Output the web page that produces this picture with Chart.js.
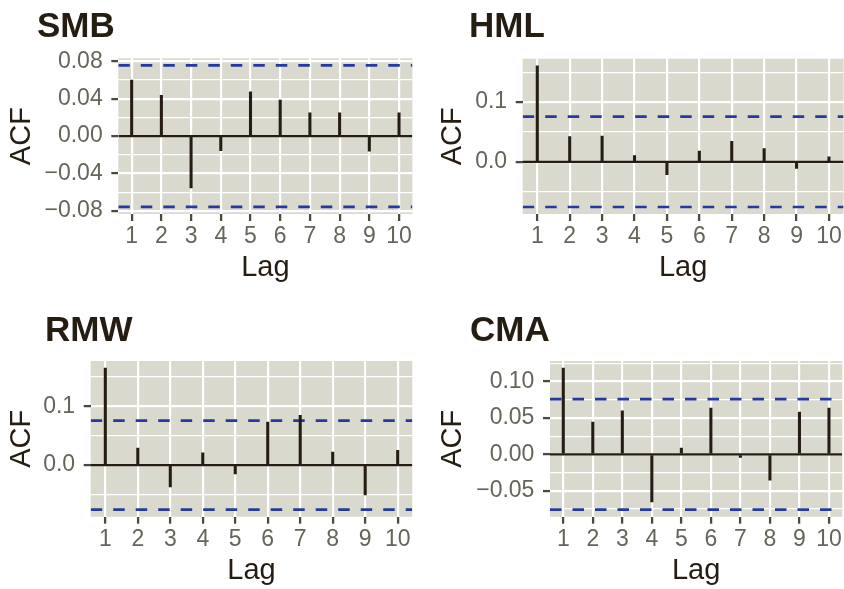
<!DOCTYPE html>
<html>
<head>
<meta charset="utf-8">
<title>ACF of factor returns</title>
<script src="https://cdn.jsdelivr.net/npm/chart.js@4.4.1/dist/chart.umd.min.js"></script>
<style>
  html, body { margin: 0; padding: 0; background: #ffffff; }
  #grid { position: relative; width: 844px; height: 589px; overflow: hidden; }
  #grid canvas { position: absolute; }
</style>
</head>
<body>
<div id="grid">
  <canvas id="smb" width="422" height="295" style="left:0px;top:0px"></canvas>
  <canvas id="hml" width="422" height="295" style="left:422px;top:0px"></canvas>
  <canvas id="rmw" width="422" height="294" style="left:0px;top:295px"></canvas>
  <canvas id="cma" width="422" height="294" style="left:422px;top:295px"></canvas>
</div>
<script>
// ---- data -------------------------------------------------------------
const lags = [1, 2, 3, 4, 5, 6, 7, 8, 9, 10];

const smbAcf = [0.060, 0.0436, -0.0554, -0.0154, 0.0475, 0.0386, 0.025, 0.025, -0.016, 0.025];
const hmlAcf = [0.161, 0.0422, 0.0433, 0.0106, -0.0217, 0.0178, 0.0344, 0.0222, -0.011, 0.0083];
const rmwAcf = [0.165, 0.029, -0.037, 0.021, -0.0148, 0.0733, 0.0847, 0.0222, -0.0506, 0.025];
const cmaAcf = [0.1183, 0.0443, 0.0598, -0.0653, 0.0087, 0.0635, -0.004, -0.0352, 0.058, 0.0635];

// 95% white-noise band, 1.96 / sqrt(n)
const ciBound = 0.0757;

const smbMajorTicks = [-0.08, -0.04, 0, 0.04, 0.08];
const smbTickLabels = ['\u22120.08', '\u22120.04', '0.00', '0.04', '0.08'];
const smbMinorTicks = [-0.06, -0.02, 0.02, 0.06];

const hmlMajorTicks = [0, 0.1];
const hmlTickLabels = ['0.0', '0.1'];
const hmlMinorTicks = [-0.05, 0.05, 0.15];

const rmwMajorTicks = [0, 0.1];
const rmwTickLabels = ['0.0', '0.1'];
const rmwMinorTicks = [-0.05, 0.05, 0.15];

const cmaMajorTicks = [-0.05, 0, 0.05, 0.1];
const cmaTickLabels = ['\u22120.05', '0.00', '0.05', '0.10'];
const cmaMinorTicks = [-0.075, -0.025, 0.025, 0.075, 0.125];

// ---- styling ----------------------------------------------------------
const INK = '#261d12';
const BLUE = '#27399f';
const PANEL = '#d9d9cd';
const TICK_TEXT = '#66655a';
const TICK_MARK = '#4b4a40';
const FAMILY = '"Liberation Sans", Arial, Helvetica, sans-serif';

Chart.defaults.font.family = FAMILY;

// panel geometry inside each canvas (pixels)
const panels = [
  { id: 'smb', title: 'SMB', acf: smbAcf, major: smbMajorTicks, labels: smbTickLabels, minor: smbMinorTicks,
    area: { left: 118.3, right: 412.4, top: 58.3, bottom: 214 }, titlePos: { x: 37, y: 37 }, yTitleMid: 21.7 },
  { id: 'hml', title: 'HML', acf: hmlAcf, major: hmlMajorTicks, labels: hmlTickLabels, minor: hmlMinorTicks,
    area: { left: 100.7, right: 422, top: 58.7, bottom: 214 }, titlePos: { x: 47, y: 37 }, yTitleMid: 31.3 },
  { id: 'rmw', title: 'RMW', acf: rmwAcf, major: rmwMajorTicks, labels: rmwTickLabels, minor: rmwMinorTicks,
    area: { left: 90.7, right: 412.3, top: 66, bottom: 221.7 }, titlePos: { x: 45, y: 46 }, yTitleMid: 21.7 },
  { id: 'cma', title: 'CMA', acf: cmaAcf, major: cmaMajorTicks, labels: cmaTickLabels, minor: cmaMinorTicks,
    area: { left: 128, right: 422, top: 66, bottom: 221.7 }, titlePos: { x: 48, y: 46 }, yTitleMid: 31.3 }
];

const TICK_SIZE = 23;
const AXIS_TITLE_SIZE = 29;
const TICK_LEN = 7;

// ggplot-style 5% expansion of a continuous range
function expandRange(lo, hi) {
  const pad = (hi - lo) * 0.05;
  return [lo - pad, hi + pad];
}

const panelFill = {
  id: 'panelFill',
  beforeDraw(chart) {
    const { ctx, chartArea: a } = chart;
    ctx.save();
    ctx.fillStyle = PANEL;
    ctx.fillRect(a.left, a.top, a.right - a.left, a.bottom - a.top);
    ctx.restore();
  }
};

function panelTitle(text, pos) {
  return {
    id: 'panelTitle',
    afterDraw(chart) {
      const ctx = chart.ctx;
      ctx.save();
      ctx.font = 'bold 35px ' + FAMILY;
      ctx.fillStyle = INK;
      ctx.textAlign = 'left';
      ctx.textBaseline = 'alphabetic';
      ctx.fillText(text, pos.x, pos.y);
      ctx.restore();
    }
  };
}

function buildPanel(p) {
  const canvas = document.getElementById(p.id);
  const W = canvas.width, H = canvas.height, a = p.area;

  const [yMin, yMax] = expandRange(Math.min(...p.acf, -ciBound), Math.max(...p.acf, ciBound));
  const [xMin, xMax] = expandRange(Math.min(...lags), Math.max(...lags));

  const yTicks = p.major.map((v, i) => ({ value: v, lab: p.labels[i] }))
    .concat(p.minor.map(v => ({ value: v, lab: '' })))
    .sort((m, n) => m.value - n.value);
  const isMajor = ctx => !!(ctx.tick && ctx.tick.lab);

  const tickHalfLine = TICK_SIZE * 1.2 / 2;
  const titleHalfLine = AXIS_TITLE_SIZE * 1.2 / 2;
  const lagMid = a.bottom + 54.3;
  const tickLabelMid = a.bottom + 31 - 0.3465 * TICK_SIZE;

  const edges = [xMin, xMax];

  new Chart(canvas, {
    type: 'bar',
    data: {
      datasets: [
        {
          type: 'bar',
          data: lags.map((l, i) => ({ x: l, y: p.acf[i] })),
          backgroundColor: INK,
          borderWidth: 0,
          barThickness: 2.4,
          order: 0
        },
        {
          type: 'line',
          data: edges.map(x => ({ x, y: 0 })),
          borderColor: INK, borderWidth: 2.3, pointRadius: 0, order: 1
        },
        {
          type: 'line',
          data: edges.map(x => ({ x, y: ciBound })),
          borderColor: BLUE, borderWidth: 2.6, borderDash: [11.5, 11], pointRadius: 0, order: 1
        },
        {
          type: 'line',
          data: edges.map(x => ({ x, y: -ciBound })),
          borderColor: BLUE, borderWidth: 2.6, borderDash: [11.5, 11], pointRadius: 0, order: 1
        }
      ]
    },
    options: {
      responsive: false,
      animation: false,
      devicePixelRatio: 1,
      layout: { padding: { left: 0, top: a.top, right: W - a.right, bottom: 0 } },
      plugins: { legend: { display: false }, tooltip: { enabled: false } },
      scales: {
        x: {
          type: 'linear',
          min: xMin, max: xMax,
          offset: false,
          afterBuildTicks: s => { s.ticks = lags.map(v => ({ value: v })); },
          afterFit: s => { s.height = H - a.bottom; },
          ticks: {
            autoSkip: false, maxRotation: 0, minRotation: 0,
            callback: v => String(v),
            color: TICK_TEXT,
            font: { size: TICK_SIZE },
            padding: tickLabelMid - a.bottom - TICK_LEN - tickHalfLine
          },
          grid: {
            offset: false,
            color: '#ffffff', lineWidth: 2.2,
            drawTicks: true, tickLength: TICK_LEN, tickColor: TICK_MARK, tickWidth: 2.3
          },
          border: { display: false },
          title: {
            display: true, text: 'Lag', color: INK,
            font: { size: AXIS_TITLE_SIZE },
            padding: { top: 0, bottom: H - titleHalfLine - lagMid }
          }
        },
        y: {
          type: 'linear',
          min: yMin, max: yMax,
          afterBuildTicks: s => { s.ticks = yTicks.map(t => ({ value: t.value, lab: t.lab })); },
          afterFit: s => { s.width = a.left; },
          ticks: {
            autoSkip: false,
            callback: (v, i, ticks) => ticks[i].lab,
            color: TICK_TEXT,
            font: { size: TICK_SIZE },
            padding: 8.6
          },
          grid: {
            color: '#ffffff',
            lineWidth: ctx => isMajor(ctx) ? 2.2 : 1.3,
            drawTicks: true, tickLength: TICK_LEN,
            tickColor: ctx => isMajor(ctx) ? TICK_MARK : 'rgba(0,0,0,0)',
            tickWidth: 2.3
          },
          border: { display: false },
          title: {
            display: true, text: 'ACF', color: INK,
            font: { size: AXIS_TITLE_SIZE },
            padding: { top: p.yTitleMid - titleHalfLine, bottom: 0 }
          }
        }
      }
    },
    plugins: [panelFill, panelTitle(p.title, p.titlePos)]
  });
}

panels.forEach(buildPanel);
</script>
</body>
</html>
